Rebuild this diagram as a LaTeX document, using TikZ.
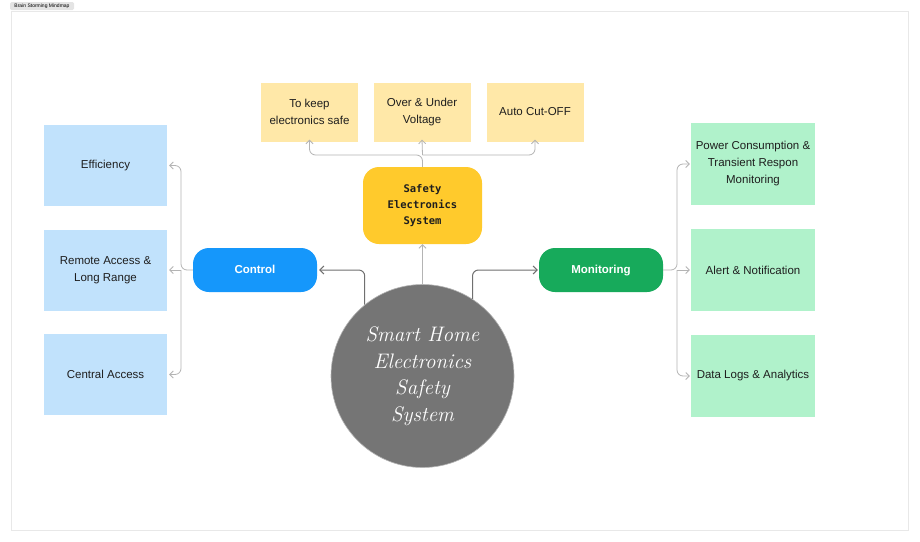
\documentclass[tikz,border=0pt]{standalone}
\usepackage{fontspec}
\setsansfont{Liberation Sans}
\setmonofont{DejaVu Sans Mono}
\usetikzlibrary{arrows.meta}
\definecolor{framegray}{HTML}{E8E8E8}
\definecolor{taggray}{HTML}{E4E4E4}
\definecolor{paleyellow}{HTML}{FFE8A8}
\definecolor{deepyellow}{HTML}{FFCA2C}
\definecolor{ctrlblue}{HTML}{1597FB}
\definecolor{paleblue}{HTML}{C1E2FC}
\definecolor{mongreen}{HTML}{17AA5B}
\definecolor{palegreen}{HTML}{B0F2CB}
\definecolor{circgray}{HTML}{757575}
\definecolor{linegray}{HTML}{B4B4B4}
\definecolor{darkline}{HTML}{707070}
\definecolor{textdark}{HTML}{1E1E1E}
\tikzset{
  leafbox/.style={draw=none, align=center, text=textdark, font=\sffamily\fontsize{11.5}{17}\selectfont, inner sep=2pt},
  yellowleaf/.style={leafbox, fill=paleyellow, minimum width=97pt, minimum height=59pt},
  blueleaf/.style={leafbox, fill=paleblue, minimum width=123pt, minimum height=81pt},
  greenleaf/.style={leafbox, fill=palegreen, minimum width=124pt, minimum height=82pt},
  pill/.style={rounded corners=16pt, minimum width=124pt, minimum height=44pt, text=white, text height=8.5pt, text depth=2.5pt, font=\sffamily\bfseries\fontsize{11.5}{14}\selectfont},
  conn/.style={draw=linegray, line width=0.8pt, rounded corners=6pt, -{Straight Barb[length=3.5pt,width=7pt]}},
  mainconn/.style={draw=darkline, line width=1pt, rounded corners=6pt, -{Straight Barb[length=4pt,width=8pt]}},
}
\begin{document}
\begin{tikzpicture}[x=1pt,y=-1pt]
\useasboundingbox (0,0) rectangle (920,541);
% frame and tag
\node[draw=framegray, fill=white, line width=0.8pt, minimum width=897pt, minimum height=519pt, inner sep=0pt] (frame) at (459.5,270.5) {};
\node[fill=taggray, rounded corners=1.5pt, inner sep=1pt, font=\sffamily\fontsize{5}{5.5}\selectfont, minimum width=64pt, minimum height=8pt] (tag) at (42,6) {Brain Storming Mindmap};

% top yellow boxes
\node[yellowleaf] (k1) at (309.5,112) {To keep\\electronics safe};
\node[yellowleaf] (k2) at (422,112) {Over \& Under\\Voltage};
\node[yellowleaf] (k3) at (535,112) {Auto Cut-OFF};
\node[fill=deepyellow, rounded corners=16pt, minimum width=119pt, minimum height=77pt, align=center, text=textdark, font=\ttfamily\bfseries\fontsize{10.5}{16}\selectfont] (safety) at (422.5,205.5) {Safety\\Electronics\\System};

% pills
\node[pill, fill=ctrlblue] (control) at (255,270) {Control};
\node[pill, fill=mongreen] (monitor) at (601,270) {Monitoring};

% blue leaves
\node[blueleaf] (b1) at (105.5,165.5) {Efficiency};
\node[blueleaf] (b2) at (105.5,270) {Remote Access \&\\Long Range};
\node[blueleaf] (b3) at (105.5,374.5) {Central Access};

% green leaves
\node[greenleaf] (g1) at (753,164) {Power Consumption \&\\Transient Respon\\Monitoring};
\node[greenleaf] (g2) at (753,270) {Alert \& Notification};
\node[greenleaf] (g3) at (753,376) {Data Logs \& Analytics};

% central circle
\node[circle, fill=circgray, draw=linegray, line width=0.6pt, minimum size=183pt, inner sep=0pt, align=center, text=white, font=\rmfamily\itshape\fontsize{21}{26.5}\selectfont] (circ) at (422.5,376) {Smart Home\\Electronics\\Safety\\System};

% junction coordinates
\coordinate (tj) at (422.5,155);
\coordinate (lj) at (181,270);
\coordinate (rj) at (677,270);

% connectors
\draw[conn, rounded corners=0pt] (circ.north) -- (safety.south);
\draw[conn] (safety.north) -- (tj) -| ([yshift=2pt]k1.south);
\draw[conn] (tj) -- ([yshift=2pt]k2.south);
\draw[conn] (tj) -| ([yshift=2pt]k3.south);

\draw[mainconn] (circ.129) |- ([xshift=2pt]control.east);
\draw[mainconn] (circ.57) |- ([xshift=-1pt]monitor.west);

\draw[conn] (control.west) -- (lj) |- ([xshift=2pt]b1.east);
\draw[conn] (lj) -- ([xshift=2pt]b2.east);
\draw[conn] (lj) |- ([xshift=2pt]b3.east);

\draw[conn] (monitor.east) -- (rj) |- ([xshift=-1pt]g1.west);
\draw[conn] (rj) -- ([xshift=-1pt]g2.west);
\draw[conn] (rj) |- ([xshift=-1pt]g3.west);
\end{tikzpicture}
\end{document}
